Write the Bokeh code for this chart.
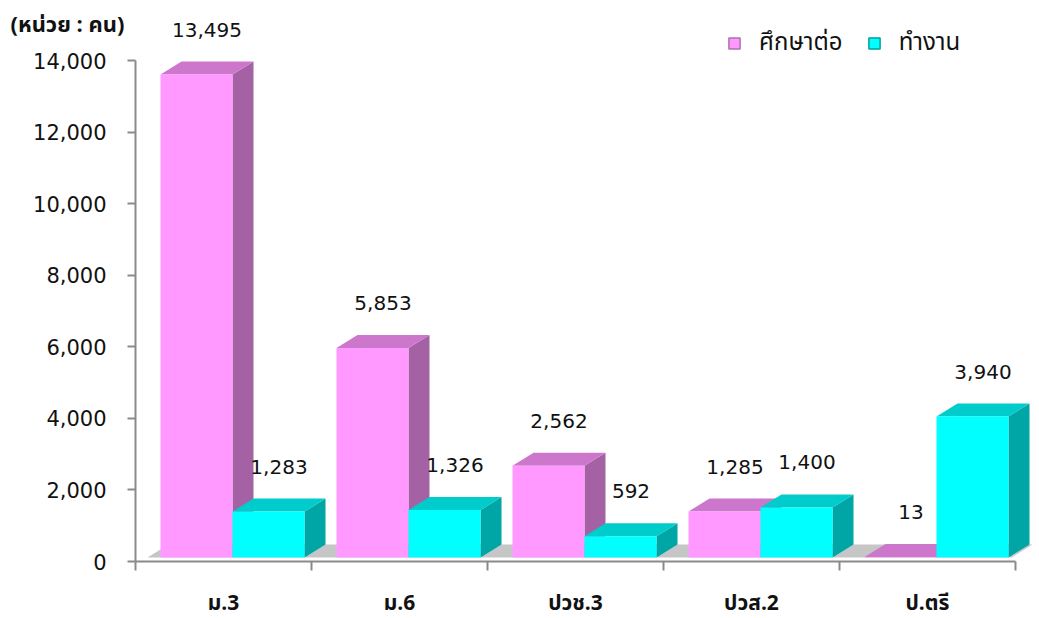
from bokeh.plotting import figure
from bokeh.models import (Range1d, LinearAxis, FixedTicker, NumeralTickFormatter,
                          ColumnDataSource, Legend, LegendItem)
from bokeh.core.properties import value
from bokeh.embed import file_html
from bokeh.resources import INLINE

# ---------------- data ----------------
categories = ["ม.3", "ม.6", "ปวช.3", "ปวส.2", "ป.ตรี"]
study = [13495, 5853, 2562, 1285, 13]
work = [1283, 1326, 592, 1400, 3940]
series_names = ["ศึกษาต่อ", "ทำงาน"]
y_ticks = [0, 2000, 4000, 6000, 8000, 10000, 12000, 14000]
unit_label = "(หน่วย : คน)"

# ---------------- geometry / style ----------------
W, H = 1039, 618
AX_X = 135          # canvas px of value axis
AX_Y = 561          # canvas px of baseline
CAT_PX = 176.0      # px per category
VAL_PX = 501.0 / 14000.0   # px per unit value

def px_x(n):
    return n / CAT_PX

def px_y(n):
    return n / VAL_PX

x0 = -AX_X / CAT_PX
x1 = x0 + W / CAT_PX
y1 = AX_Y / VAL_PX
y0 = -(H - AX_Y) / VAL_PX

DX = px_x(21)
DY = px_y(13)
BASE = px_y(4)
OFF = px_x(25)
BW = px_x(72)
LABEL_UP = px_y(45)

NUM_FONT = "DejaVu Sans"
THAI_FONT = "Noto Sans Thai, Tahoma, DejaVu Sans, sans-serif"

colors = [
    dict(front="#FF99FF", top="#CC77CC", side="#A462A4", edge="#B070B0"),
    dict(front="#00FFFF", top="#00CCCC", side="#00A6A6", edge="#00A0A0"),
]
axis_color = "#8a8a8a"

p = figure(width=W, height=H, x_range=Range1d(x0, x1), y_range=Range1d(y0, y1),
           output_backend="svg", toolbar_location=None, min_border=0,
           x_axis_type=None, y_axis_type=None, outline_line_color=None)
p.background_fill_color = "white"

# floor
n = len(categories)
fl_l, fl_r = px_x(12), n - px_x(4)
p.patch([fl_l, fl_r, fl_r + DX, fl_l + DX], [BASE, BASE, BASE + DY, BASE + DY],
        fill_color="#c6c6c6", line_color=None)

# bars
series = [study, work]
front_renderers = []
for s, vals in enumerate(series):
    c = colors[s]
    lefts = [i + OFF + s * BW for i in range(n)]
    rights = [l + BW for l in lefts]
    tops = [BASE + v for v in vals]
    side_xs = [[r, r + DX, r + DX, r] for r in rights]
    side_ys = [[BASE, BASE + DY, t + DY, t] for t in tops]
    top_xs = [[l, r, r + DX, l + DX] for l, r in zip(lefts, rights)]
    top_ys = [[t, t, t + DY, t + DY] for t in tops]
    p.patches(side_xs, side_ys, fill_color=c["side"], line_color=None)
    p.patches(top_xs, top_ys, fill_color=c["top"], line_color=None)
    r = p.quad(left=lefts, right=rights, bottom=BASE, top=tops,
               fill_color=c["front"], line_color=None)
    front_renderers.append(r)

# data labels
for s, vals in enumerate(series):
    xs = [i + OFF + s * BW + BW / 2 + DX / 2 for i in range(n)]
    ys = [BASE + v + LABEL_UP for v in vals]
    src = ColumnDataSource(dict(x=xs, y=ys, t=[f"{v:,}" for v in vals]))
    p.text(x="x", y="y", text="t", source=src, text_align="center",
           text_baseline="middle", text_font=value(NUM_FONT),
           text_font_size="20px", text_color="#111111")

# unit label
p.text(x=[x0 + px_x(10)], y=[y1 - px_y(25)], text=[unit_label], text_align="left",
       text_baseline="middle", text_font=value(THAI_FONT), text_font_size="22px",
       text_font_style="bold", text_color="#111111")

# axes
yaxis = LinearAxis(fixed_location=0, bounds=(0, 14000),
                   ticker=FixedTicker(ticks=y_ticks),
                   formatter=NumeralTickFormatter(format="0,0"))
yaxis.axis_line_color = axis_color
yaxis.axis_line_width = 2
yaxis.major_tick_line_color = axis_color
yaxis.major_tick_line_width = 2
yaxis.major_tick_out = 8
yaxis.major_tick_in = 0
yaxis.minor_tick_line_color = None
yaxis.major_label_standoff = 21
yaxis.major_label_text_font = NUM_FONT
yaxis.major_label_text_font_size = "21px"
yaxis.major_label_text_color = "#111111"
p.add_layout(yaxis, "left")

centers = [i + 0.5 for i in range(n)]
xaxis = LinearAxis(fixed_location=0, bounds=(0, n),
                   ticker=FixedTicker(ticks=centers, minor_ticks=list(range(n + 1))),
                   major_label_overrides={c: lab for c, lab in zip(centers, categories)})
xaxis.axis_line_color = axis_color
xaxis.axis_line_width = 2
xaxis.major_tick_line_color = None
xaxis.major_tick_out = 0
xaxis.major_tick_in = 0
xaxis.minor_tick_line_color = axis_color
xaxis.minor_tick_line_width = 2
xaxis.minor_tick_out = 9
xaxis.minor_tick_in = 0
xaxis.major_label_standoff = 17
xaxis.major_label_text_font = THAI_FONT
xaxis.major_label_text_font_size = "21px"
xaxis.major_label_text_font_style = "bold"
xaxis.major_label_text_color = "#111111"
p.add_layout(xaxis, "below")

# legend swatches (drawn with an edge like the reference)
swatches = []
for s in range(2):
    sw = p.quad(left=[x0], right=[x0], bottom=[y0], top=[y0],
                fill_color=colors[s]["front"], line_color=colors[s]["edge"], line_width=1.5)
    swatches.append(sw)

legend = Legend(items=[LegendItem(label=series_names[s], renderers=[swatches[s]], index=0)
                       for s in range(2)],
                orientation="horizontal", location=(727, H - 61),
                glyph_width=14, glyph_height=14, label_standoff=18, spacing=24,
                padding=0, margin=0, border_line_color=None, background_fill_alpha=0,
                label_text_font=THAI_FONT, label_text_font_size="24px",
                label_text_color="#111111")
p.add_layout(legend, "center")

open("out.html", "w").write(file_html(p, INLINE))
